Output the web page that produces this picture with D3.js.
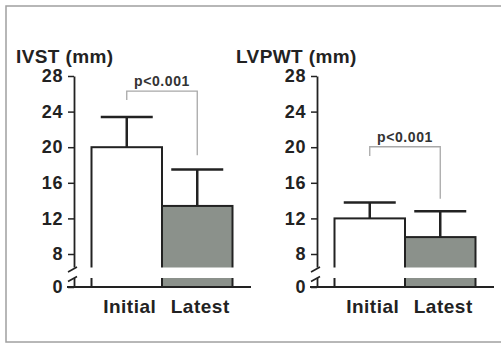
<!DOCTYPE html>
<html>
<head>
<meta charset="utf-8">
<script src="https://cdn.jsdelivr.net/npm/d3@7"></script>
<style>
  body { margin: 0; background: #fff; }
  text { font-family: "Liberation Sans", Arial, sans-serif; }
</style>
</head>
<body>
<svg width="501" height="344"></svg>
<script>
// data (mm)
const categories = ["Initial", "Latest"];
const ivstMean = [20, 13.4];
const ivstSD = [3.4, 4.1];
const lvpwtMean = [12, 9.9];
const lvpwtSD = [1.8, 2.9];
const yTicks = [0, 8, 12, 16, 20, 24, 28];
const titles = ["IVST (mm)", "LVPWT (mm)"];
const pLabels = ["p<0.001", "p<0.001"];
// bracket: [left leg end, top, right leg end] in mm
const ivstBracket = [25.3, 26.3, 19.1];
const lvpwtBracket = [19, 20.05, 14.2];

const svg = d3.select("svg");

// outer frame
svg.append("rect")
    .attr("x", 6).attr("y", 6)
    .attr("width", 520).attr("height", 336)
    .attr("fill", "none")
    .attr("stroke", "#a0a0a0")
    .attr("stroke-width", 1.5);

// broken axis: 0..8 collapsed into a short stub
const y = d3.scaleLinear().domain([0, 8, 28]).range([287, 254, 76]);
const x = d3.scaleBand().domain(categories).range([17.5, 158.5]);
const breakTop = 267.5, breakBottom = 278;

const drawPanel = (ox, titleX, mean, sd, bracket, pLabel, title) => {
  const g = svg.append("g").attr("transform", "translate(" + ox + ",0)");

  svg.append("text")
      .attr("x", titleX).attr("y", 63)
      .attr("font-size", 19).attr("font-weight", "bold")
      .attr("letter-spacing", 0.4)
      .attr("fill", "#222")
      .text(title);

  // bars
  g.selectAll(".bar")
      .data(categories)
      .enter()
      .append("rect")
      .attr("x", d => x(d))
      .attr("y", (d, i) => y(mean[i]))
      .attr("width", x.bandwidth())
      .attr("height", (d, i) => y(0) - y(mean[i]))
      .attr("fill", (d, i) => i == 0 ? "#fff" : "#8b918b")
      .attr("stroke", "#222")
      .attr("stroke-width", 2);

  // error bars (upper only)
  const cap = 26;
  categories.forEach((c, i) => {
    const cx = x(c) + x.bandwidth() / 2;
    g.append("line")
        .attr("x1", cx).attr("x2", cx)
        .attr("y1", y(mean[i])).attr("y2", y(mean[i] + sd[i]))
        .attr("stroke", "#222").attr("stroke-width", 2.5);
    g.append("line")
        .attr("x1", cx - cap).attr("x2", cx + cap)
        .attr("y1", y(mean[i] + sd[i])).attr("y2", y(mean[i] + sd[i]))
        .attr("stroke", "#222").attr("stroke-width", 2.5);
  });

  // y axis
  const ax = g.append("g")
      .call(d3.axisLeft(y).tickValues(yTicks).tickSize(6).tickSizeOuter(0).tickPadding(5));
  ax.select(".domain").attr("stroke", "#222").attr("stroke-width", 1.8);
  ax.selectAll(".tick line").attr("stroke", "#222").attr("stroke-width", 1.5);
  ax.selectAll(".tick text")
      .attr("font-size", 18).attr("font-weight", "bold")
      .attr("letter-spacing", 0.6)
      .attr("font-family", "Liberation Sans, Arial, sans-serif")
      .attr("fill", "#222");

  // baseline
  g.append("line")
      .attr("x1", -7).attr("x2", 177)
      .attr("y1", y(0)).attr("y2", y(0))
      .attr("stroke", "#222").attr("stroke-width", 1.8);

  // break gap
  g.append("rect")
      .attr("x", -4).attr("y", breakTop)
      .attr("width", x.range()[1] + 6).attr("height", breakBottom - breakTop)
      .attr("fill", "#fff");
  [breakTop + 1.5, breakBottom + 0.5].forEach(by => {
    g.append("line")
        .attr("x1", -6).attr("x2", 3)
        .attr("y1", by + 3).attr("y2", by - 2)
        .attr("stroke", "#222").attr("stroke-width", 1.6);
  });

  // x labels
  g.selectAll(".xlab")
      .data(categories)
      .enter()
      .append("text")
      .attr("x", d => x(d) + x.bandwidth() / 2 + 3)
      .attr("y", 313)
      .attr("text-anchor", "middle")
      .attr("font-size", 19).attr("font-weight", "bold")
      .attr("letter-spacing", 0.5)
      .attr("fill", "#222")
      .text(d => d);

  // significance bracket
  const lx = x(categories[0]) + x.bandwidth() / 2;
  const rx = x(categories[1]) + x.bandwidth() / 2;
  g.append("path")
      .attr("d", "M" + lx + "," + y(bracket[0]) + "V" + y(bracket[1]) +
                 "H" + rx + "V" + y(bracket[2]))
      .attr("fill", "none")
      .attr("stroke", "#a8a8a8")
      .attr("stroke-width", 1.3);
  g.append("text")
      .attr("x", (lx + rx) / 2)
      .attr("y", y(bracket[1]) - 5)
      .attr("text-anchor", "middle")
      .attr("font-size", 14).attr("font-weight", "bold")
      .attr("letter-spacing", 0.6)
      .attr("fill", "#333")
      .text(pLabel);
};

drawPanel(74, 16, ivstMean, ivstSD, ivstBracket, pLabels[0], titles[0]);
drawPanel(317, 236, lvpwtMean, lvpwtSD, lvpwtBracket, pLabels[1], titles[1]);
</script>
</body>
</html>
